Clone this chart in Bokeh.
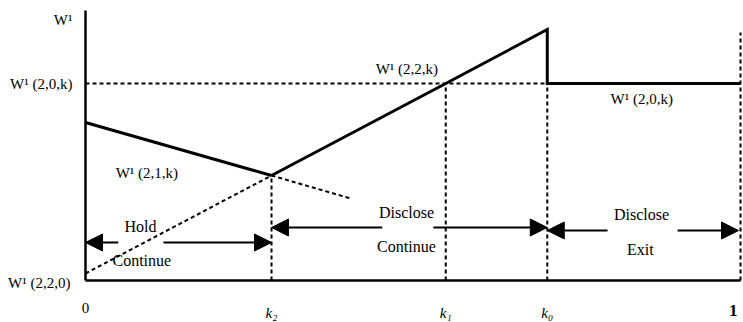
from bokeh.plotting import figure
from bokeh.models import Arrow, NormalHead, Label
from bokeh.embed import file_html
from bokeh.resources import INLINE

# Thresholds on the k axis (0 .. 1)
k2, k1, k0 = 0.284, 0.55, 0.705
tick_x = [0.0, k2, k1, k0, 0.989]
tick_labels = ["0", "k₂", "k₁", "k₀", "1"]

# Payoff curves
w20_level = 197                      # W1(2,0,k): flat
w21_x = [0.0, k2]                    # W1(2,1,k): falling, optimal until k2
w21_y = [158, 105]
w21_ext_x = [k2, 0.405]              # its continuation past k2
w21_ext_y = [105, 82]
w22_x = [0.0, k2, k1, k0]            # W1(2,2,k): rising
w22_y = [7, 105, 197, 251]
w_axis_top = 270

# Region arrows: (tip_left, inner_left_end, inner_right_start, tip_right, row)
regions = [
    (0.0, 0.050, 0.119, k2, 38),
    (k2, 0.453, 0.531, k0, 53),
    (k0, 0.797, 0.904, 0.997, 50),
]
region_text = [
    ("Hold", 0.084, 54, "Continue", 0.086, 20),
    ("Disclose", 0.490, 68, "Continue", 0.490, 34),
    ("Disclose", 0.849, 66, "Exit", 0.847, 31),
]

FONT = "Liberation Serif"

p = figure(width=743, height=322, x_range=(-85 / 655, 658 / 655), y_range=(-42, 280),
           x_axis_type=None, y_axis_type=None, toolbar_location=None,
           output_backend="svg", min_border=0)
p.outline_line_color = None
p.xgrid.visible = False
p.ygrid.visible = False

DASH = "4 3"
DW = 2

# axes
p.line([0, 0], [0, w_axis_top], line_color="black", line_width=2.5)
p.line([0, 1], [0, 0], line_color="black", line_width=2.5)

# reference level W1(2,0,k) up to k0
p.line([0, k0], [w20_level, w20_level], line_color="black", line_width=DW, line_dash=DASH)

# vertical guides at the thresholds and at 1
p.line([k2, k2], [0, w22_y[1]], line_color="black", line_width=DW, line_dash=DASH)
p.line([k1, k1], [0, w20_level], line_color="black", line_width=DW, line_dash=DASH)
p.line([k0, k0], [0, w20_level], line_color="black", line_width=DW, line_dash=DASH)
p.line([1, 1], [0, 248], line_color="black", line_width=DW, line_dash=DASH)

# dotted (non-optimal) parts of the curves
p.line(w22_x[:2], w22_y[:2], line_color="black", line_width=DW, line_dash=DASH)
p.line(w21_ext_x, w21_ext_y, line_color="black", line_width=DW, line_dash=DASH)

# upper envelope: W1(2,1,k) -> W1(2,2,k) -> drop to W1(2,0,k)
p.line(w21_x, w21_y, line_color="black", line_width=3)
env_x = w22_x[1:] + [k0, 1.0]
env_y = w22_y[1:] + [w20_level, w20_level]
p.line(env_x, env_y, line_color="black", line_width=3, line_join="miter")

# region arrows
for tl, le, rs, tr, row in regions:
    for start, tip in ((le, tl), (rs, tr)):
        p.add_layout(Arrow(end=NormalHead(size=17, fill_color="black", line_color="black"),
                           x_start=start, y_start=row, x_end=tip, y_end=row,
                           line_color="black", line_width=2))

def label(x, y, text, align="center", size="16px", style="normal"):
    p.add_layout(Label(x=x, y=y, text=text, text_align=align, text_baseline="middle",
                       text_font=FONT, text_font_size=size, text_font_style=style,
                       text_color="black"))

for top, tx, ty, bot, bx, by in region_text:
    label(tx, ty, top)
    label(bx, by, bot)

# tick labels along the k axis
tick_y = [-27, -32, -32, -32, -30]
for x, t, y in zip(tick_x, tick_labels, tick_y):
    if t == "1":
        label(x, y, t, size="17px", style="bold")
    elif t == "0":
        label(x, y, t, size="15px")
    else:
        label(x, y, t, size="15px", style="italic")

# curve and axis labels
label(-0.020, 261, "W¹", align="right", size="15px")
label(-0.020, w20_level, "W¹ (2,0,k)", align="right", size="15px")
label(-0.023, -2, "W¹ (2,2,0)", align="right", size="15px")
label(0.046, 108, "W¹ (2,1,k)", align="left", size="15px")
label(0.443, 212, "W¹ (2,2,k)", align="left", size="15px")
label(0.8015, 182, "W¹ (2,0,k)", align="left", size="15px")

open("out.html", "w").write(file_html(p, INLINE))
